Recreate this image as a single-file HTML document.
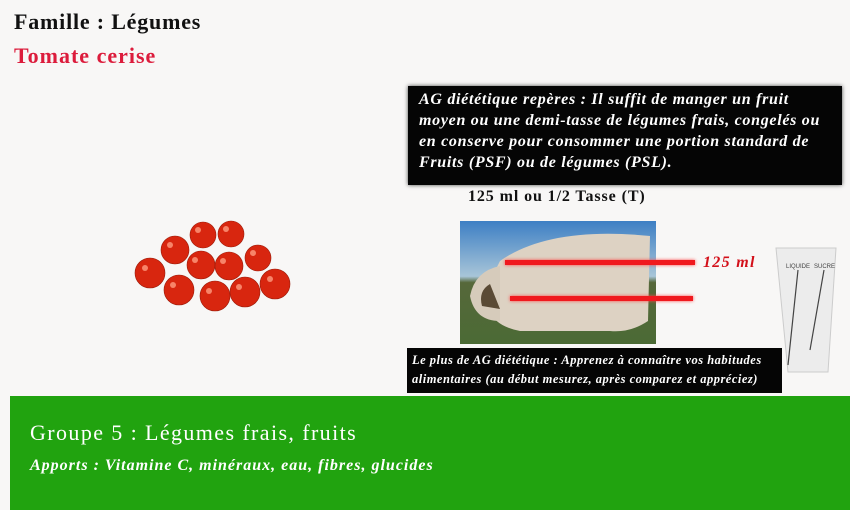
<!DOCTYPE html>
<html><head><meta charset="utf-8"><style>
body{margin:0;width:850px;height:510px;background:#f8f7f6;position:relative;overflow:hidden;font-family:"Liberation Serif",serif}
.a{position:absolute;white-space:nowrap}
</style></head><body>
<div class="a" style="left:14px;top:9px;font-size:22px;font-weight:bold;color:#111;letter-spacing:0.8px">Famille : Légumes</div>
<div class="a" style="left:14px;top:43px;font-size:22px;font-weight:bold;color:#dc1c3c;letter-spacing:1px">Tomate cerise</div>

<svg class="a" style="left:125px;top:215px" width="175" height="105">
<g fill="#d8260f" stroke="#9b1a08" stroke-width="0.6">
<circle cx="78" cy="20" r="13"/><circle cx="106" cy="19" r="13"/><circle cx="50" cy="35" r="14"/><circle cx="133" cy="43" r="13"/>
<circle cx="76" cy="50" r="14"/><circle cx="104" cy="51" r="14"/><circle cx="25" cy="58" r="15"/><circle cx="150" cy="69" r="15"/>
<circle cx="54" cy="75" r="15"/><circle cx="90" cy="81" r="15"/><circle cx="120" cy="77" r="15"/>
</g>
<g fill="#ff9c80" opacity="0.8"><circle cx="73" cy="15" r="3"/><circle cx="101" cy="14" r="3"/><circle cx="45" cy="30" r="3"/><circle cx="70" cy="45" r="3"/><circle cx="98" cy="46" r="3"/><circle cx="20" cy="53" r="3"/><circle cx="48" cy="70" r="3"/><circle cx="84" cy="76" r="3"/><circle cx="114" cy="72" r="3"/><circle cx="145" cy="64" r="3"/><circle cx="128" cy="38" r="3"/></g>
</svg>

<div class="a" style="left:408px;top:86px;width:434px;height:99px;background:#050505;box-shadow:0 0 4px #444"></div>
<div class="a" style="left:419px;top:89px;font-size:16px;line-height:21px;font-weight:bold;font-style:italic;color:#fff;letter-spacing:0.7px">AG diététique repères : Il suffit de manger un fruit<br>moyen ou une demi-tasse de légumes frais, congelés ou<br>en conserve pour consommer une portion standard de<br>Fruits (PSF) ou de légumes (PSL).</div>

<div class="a" style="left:468px;top:188px;font-size:16px;font-weight:bold;color:#111;letter-spacing:0.9px">125 ml ou 1/2 Tasse (T)</div>

<svg class="a" style="left:460px;top:221px" width="196" height="123">
<defs><linearGradient id="sky" x1="0" y1="0" x2="0" y2="1"><stop offset="0" stop-color="#3d7fc4"/><stop offset="0.45" stop-color="#a8c5d8"/><stop offset="0.5" stop-color="#56683a"/><stop offset="1" stop-color="#4b6a35"/></linearGradient></defs>
<rect width="196" height="123" fill="url(#sky)"/>
<path d="M40 40 Q90 5 190 15 L188 100 Q170 112 150 110 L60 110 Q35 105 30 90 L30 60 Z" fill="#ddd2c3"/>
<path d="M40 45 Q15 50 10 75 Q15 100 40 100 Z" fill="#d6cbbb"/>
<path d="M30 63 Q18 70 22 85 L40 88 Z" fill="#5a4a35"/>
</svg>
<div class="a" style="left:505px;top:260px;width:190px;height:5px;background:#f0191e;box-shadow:0 0 3px #f44"></div>
<div class="a" style="left:510px;top:296px;width:183px;height:5px;background:#f0191e;box-shadow:0 0 3px #f44"></div>
<div class="a" style="left:703px;top:254px;font-size:16px;font-weight:bold;font-style:italic;color:#d3101a;letter-spacing:1.3px">125 ml</div>

<svg class="a" style="left:770px;top:240px" width="72" height="136">
<path d="M6 8 L66 8 L58 132 L18 132 Z" fill="#ececec" stroke="#ccc"/>
<line x1="28" y1="30" x2="18" y2="125" stroke="#444" stroke-width="1.2"/>
<line x1="54" y1="30" x2="40" y2="110" stroke="#444" stroke-width="1.2"/>
<text x="16" y="28" font-size="6" fill="#444" font-family="Liberation Sans,sans-serif">LIQUIDE</text>
<text x="44" y="28" font-size="6" fill="#444" font-family="Liberation Sans,sans-serif">SUCRE</text>
</svg>

<div class="a" style="left:407px;top:348px;width:375px;height:45px;background:#050505"></div>
<div class="a" style="left:412px;top:351px;font-size:12.5px;line-height:19px;font-weight:bold;font-style:italic;color:#fff;letter-spacing:0.5px">Le plus de AG diététique : Apprenez à connaître vos habitudes<br>alimentaires (au début mesurez, après comparez et appréciez)</div>

<div class="a" style="left:10px;top:396px;width:840px;height:114px;background:#21a30f"></div>
<div class="a" style="left:30px;top:420px;font-size:22px;color:#fff;letter-spacing:1.4px">Groupe 5 : Légumes frais, fruits</div>
<div class="a" style="left:30px;top:457px;font-size:16px;font-weight:bold;font-style:italic;color:#fff;letter-spacing:1px">Apports : Vitamine C, minéraux, eau, fibres, glucides</div>
</body></html>
